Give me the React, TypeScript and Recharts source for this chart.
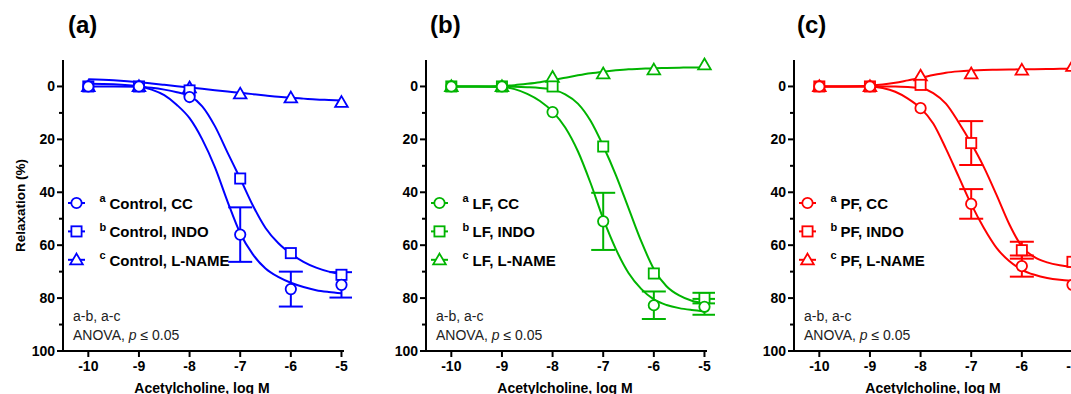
import React from 'react';
import { ComposedChart, Line, XAxis, YAxis, ErrorBar, Legend } from 'recharts';

const FONT = '"Liberation Sans", Arial, Helvetica, sans-serif';

// ---------- data ----------
const doses = [-10, -9, -8, -7, -6, -5];
const curveDoses = [-10, -9.5, -9, -8.75, -8.5, -8.25, -8, -7.75, -7.5, -7.25, -7, -6.75, -6.5, -6.25, -6, -5.75, -5.5, -5.25, -5];
const xTicks = [-10, -9, -8, -7, -6, -5];
const yTicks = [0, 10, 20, 30, 40, 50, 60, 70, 80, 90, 100];
const yMajorLabels = [0, 20, 40, 60, 80, 100];

// panel (a) Control
const ctlCC = [0, 0, 4, 56, 76.6, 75];
const ctlCCErr = [0, 0, 0, 10.3, 6.6, 4.8];
const ctlINDO = [0, 0, 1.5, 34.8, 63, 71.2];
const ctlINDOErr = [0, 0, 0, 0, 0, 0];
const ctlLN = [0, 0, 0.5, 2.8, 4.3, 6];
const ctlLNErr = [0, 0, 0, 0, 0, 0];
const ctlCCFit = [-1, -0.8, 0, 1.2, 3.3, 7, 12, 20, 30.5, 43.5, 55.5, 63.5, 68.8, 72, 74.2, 75.8, 77, 77.7, 78.2];
const ctlINDOFit = [0, 0, 0.1, 0.5, 1.2, 2.2, 3.6, 7.5, 15, 25, 34.8, 45, 53.5, 59.2, 63.2, 66.3, 68.5, 70, 71];
const ctlLNFit = [-2.7, -2.3, -1.6, -1.1, -0.6, -0.1, 0.4, 0.9, 1.4, 1.9, 2.4, 2.9, 3.4, 3.9, 4.3, 4.6, 4.9, 5.1, 5.3];

// panel (b) LF
const lfCC = [0, 0, 9.7, 51, 82.7, 83.3];
const lfCCErr = [0, 0, 0, 10.8, 5.2, 3];
const lfINDO = [0, 0, 0, 22.7, 70.7, 80];
const lfINDOErr = [0, 0, 0, 0, 0, 2];
const lfLN = [0, 0, -3.5, -4.8, -6.3, -8.2];
const lfLNErr = [0, 0, 0, 0, 0, 0];
const lfCCFit = [0, 0, 0.2, 1, 2.8, 5.5, 9.5, 15.5, 24.5, 36.5, 50, 61.5, 70.5, 76.5, 80.5, 82.6, 83.8, 84.5, 85];
const lfINDOFit = [0, 0, 0, 0.1, 0.3, 0.6, 1.2, 3, 6.5, 13, 22.5, 33.5, 46, 58.5, 69, 75.5, 79, 81, 82];
const lfLNFit = [0, 0, -0.2, -0.5, -1, -1.6, -2.4, -3.3, -4.2, -5, -5.6, -6.1, -6.5, -6.7, -6.9, -7, -7.1, -7.2, -7.2];

// panel (c) PF
const pfCC = [0, 0, 8.2, 44.4, 67.9, 75];
const pfCCErr = [0, 0, 0, 5.6, 4, 0];
const pfINDO = [0, 0, -0.6, 21.4, 61.9, 66.3];
const pfINDOErr = [0, 0, 0, 8.3, 3.2, 0];
const pfLN = [0, 0, -4, -4.8, -6.2, -7.6];
const pfLNErr = [0, 0, 0, 0, 0, 0];
const pfCCFit = [0, 0, 0, 0.6, 2, 4.6, 8.2, 14, 23.5, 34, 44.5, 53.5, 61, 66, 69.3, 71.2, 72.4, 73.1, 73.5];
const pfINDOFit = [0, 0, 0, 0, 0, 0.2, 0.6, 2.5, 6.5, 13.5, 21.5, 30.5, 41, 52, 60.5, 64.5, 66.5, 67.6, 68.2];
const pfLNFit = [0, 0, -0.3, -0.7, -1.4, -2.3, -3.2, -4.3, -5.2, -5.7, -6, -6.2, -6.3, -6.4, -6.5, -6.55, -6.6, -6.65, -6.7];

const panelTitles = ['(a)', '(b)', '(c)'];
const groupNames = ['Control', 'LF', 'PF'];
const treatNames = ['CC', 'INDO', 'L-NAME'];
const supLetters = ['a', 'b', 'c'];
const colors = ['#0000ff', '#00b400', '#ff0000'];
const annotation1 = 'a-b, a-c';
const xLabel = 'Acetylcholine, log M';
const yLabel = 'Relaxation (%)';

// ---------- layout constants ----------
const AXIS_W = 63;
const PLOT_W = 281;
const CHART_W = AXIS_W + PLOT_W + 8;
const CHART_H = 394;
const TOP = 60;
const XAXIS_H = 43;
const panelAxisX = [63, 426, 794];

type Shape = 'circle' | 'square' | 'triangle';
const shapes: Shape[] = ['circle', 'square', 'triangle'];

const build = (vals: number[], errs: number[]) => doses.map((x, i) => ({ x, y: vals[i], err: errs[i] }));
const buildFit = (vals: number[]) => curveDoses.map((x, i) => ({ x, y: vals[i] }));

const panels = [
  {
    series: [
      { pts: build(ctlCC, ctlCCErr), errs: ctlCCErr, fit: buildFit(ctlCCFit) },
      { pts: build(ctlINDO, ctlINDOErr), errs: ctlINDOErr, fit: buildFit(ctlINDOFit) },
      { pts: build(ctlLN, ctlLNErr), errs: ctlLNErr, fit: buildFit(ctlLNFit) },
    ],
  },
  {
    series: [
      { pts: build(lfCC, lfCCErr), errs: lfCCErr, fit: buildFit(lfCCFit) },
      { pts: build(lfINDO, lfINDOErr), errs: lfINDOErr, fit: buildFit(lfINDOFit) },
      { pts: build(lfLN, lfLNErr), errs: lfLNErr, fit: buildFit(lfLNFit) },
    ],
  },
  {
    series: [
      { pts: build(pfCC, pfCCErr), errs: pfCCErr, fit: buildFit(pfCCFit) },
      { pts: build(pfINDO, pfINDOErr), errs: pfINDOErr, fit: buildFit(pfINDOFit) },
      { pts: build(pfLN, pfLNErr), errs: pfLNErr, fit: buildFit(pfLNFit) },
    ],
  },
];

const Marker = ({ shape, cx, cy, color }: { shape: Shape; cx: number; cy: number; color: string }) => {
  if (shape === 'circle') {
    return <circle cx={cx} cy={cy} r={5.2} fill="#fff" stroke={color} strokeWidth={1.8} />;
  }
  if (shape === 'square') {
    return <rect x={cx - 5.1} y={cy - 5.1} width={10.2} height={10.2} fill="#fff" stroke={color} strokeWidth={1.8} />;
  }
  return (
    <path
      d={`M${cx},${cy - 6.2} L${cx + 6.3},${cy + 4.6} L${cx - 6.3},${cy + 4.6} Z`}
      fill="#fff"
      stroke={color}
      strokeWidth={1.8}
      strokeLinejoin="miter"
    />
  );
};

const makeDot = (shape: Shape, color: string) => (p: any) => {
  const { cx, cy, index } = p;
  if (cx == null || cy == null) return <g key={`d-${index}`} />;
  return (
    <g key={`d-${index}`}>
      <Marker shape={shape} cx={cx} cy={cy} color={color} />
    </g>
  );
};

const YTick = (props: any) => {
  const { x, y, payload } = props;
  const v = payload.value;
  const major = yMajorLabels.includes(v);
  const ax = x + 8;
  return (
    <g>
      <line x1={ax - (major ? 6 : 4)} x2={ax} y1={y} y2={y} stroke="#000" strokeWidth={2} />
      {major && (
        <text x={x} y={y} dy="0.36em" textAnchor="end" fontSize={14} fontWeight="bold" fill="#000" fontFamily={FONT}>
          {v}
        </text>
      )}
    </g>
  );
};

const LegendBox = ({ pi }: { pi: number }) => {
  const color = colors[pi];
  return (
    <svg width={220} height={80} style={{ overflow: 'visible' }}>
      {treatNames.map((t, i) => {
        const cy = 10 + i * 28.4;
        return (
          <g key={t}>
            <line x1={0} x2={17} y1={cy} y2={cy} stroke={color} strokeWidth={2} />
            <Marker shape={shapes[i]} cx={8.5} cy={cy} color={color} />
            <text x={31.5} y={cy - 0.8} fontSize={11} fontWeight="bold" fill="#000" fontFamily={FONT}>
              {supLetters[i]}
            </text>
            <text x={41.5} y={cy + 5.8} fontSize={15} fontWeight="bold" fill="#000" fontFamily={FONT}>
              {`${groupNames[pi]}, ${t}`}
            </text>
          </g>
        );
      })}
    </svg>
  );
};

const Panel = ({ pi }: { pi: number }) => {
  const color = colors[pi];
  const panel = panels[pi];
  const order = [2, 1, 0];
  return (
    <ComposedChart
      width={CHART_W}
      height={CHART_H}
      margin={{ top: TOP, right: CHART_W - AXIS_W - PLOT_W, bottom: 0, left: 0 }}
    >
      <XAxis
        type="number"
        dataKey="x"
        domain={[-10.5, -4.95]}
        ticks={xTicks}
        interval={0}
        height={XAXIS_H}
        tickSize={6}
        tickMargin={4}
        axisLine={{ stroke: '#000', strokeWidth: 2 }}
        tickLine={{ stroke: '#000', strokeWidth: 2 }}
        tick={{ fill: '#000', fontSize: 14, fontWeight: 'bold', fontFamily: FONT }}
      />
      <YAxis
        type="number"
        dataKey="y"
        domain={[-10, 100]}
        reversed
        ticks={yTicks}
        interval={0}
        width={AXIS_W}
        tickSize={6}
        tickMargin={2}
        tickLine={false}
        axisLine={{ stroke: '#000', strokeWidth: 2 }}
        tick={<YTick />}
      />
      {order.map((si) => (
        <Line
          key={`fit-${si}`}
          data={panel.series[si].fit}
          dataKey="y"
          type="monotone"
          stroke={color}
          strokeWidth={2}
          dot={false}
          activeDot={false}
          legendType="none"
          isAnimationActive={false}
        />
      ))}
      {order.map((si) => (
        <Line
          key={`pts-${si}`}
          data={panel.series[si].pts}
          dataKey="y"
          name={`${groupNames[pi]}, ${treatNames[si]}`}
          stroke="none"
          strokeWidth={0}
          dot={makeDot(shapes[si], color)}
          activeDot={false}
          isAnimationActive={false}
        >
          {panel.series[si].errs.some((e) => e > 0) && (
            <ErrorBar dataKey="err" direction="y" width={12} stroke={color} strokeWidth={2} isAnimationActive={false} />
          )}
        </Line>
      ))}
      <Legend
        layout="vertical"
        align="center"
        verticalAlign="middle"
        content={() => <LegendBox pi={pi} />}
        wrapperStyle={{ left: AXIS_W + 5, top: 193.3, width: 220, height: 80 }}
      />
    </ComposedChart>
  );
};

export default function App() {
  return (
    <div
      style={{
        position: 'fixed',
        left: 0,
        top: 0,
        width: 1071,
        height: 394,
        overflow: 'hidden',
        background: '#fff',
        fontFamily: FONT,
      }}
    >
      {panelAxisX.map((ax, pi) => (
        <div key={pi} style={{ position: 'absolute', left: ax - AXIS_W, top: 0 }}>
          <Panel pi={pi} />
        </div>
      ))}
      <svg
        width={1071}
        height={394}
        style={{ position: 'absolute', left: 0, top: 0, pointerEvents: 'none' }}
      >
        {panelAxisX.map((ax, pi) => (
          <g key={pi}>
            <text x={ax + [5, 4, 3][pi]} y={33} fontSize={24} fontWeight="bold" fill="#000" fontFamily={FONT}>
              {panelTitles[pi]}
            </text>
            <text x={ax + 139} y={393} textAnchor="middle" fontSize={14} fontWeight="bold" fill="#000" fontFamily={FONT}>
              {xLabel}
            </text>
            <text x={ax + 10} y={321} fontSize={14} fill="#222" fontFamily={FONT}>
              {annotation1}
            </text>
            <text x={ax + 10} y={340} fontSize={14} fill="#222" fontFamily={FONT}>
              {'ANOVA, '}
              <tspan fontStyle="italic">p</tspan>
              {' ≤ 0.05'}
            </text>
          </g>
        ))}
        <text
          x={20}
          y={205.5}
          textAnchor="middle"
          dominantBaseline="central"
          transform="rotate(-90 20 205.5)"
          fontSize={13.5}
          fontWeight="bold"
          fill="#000"
          fontFamily={FONT}
        >
          {yLabel}
        </text>
      </svg>
    </div>
  );
}
